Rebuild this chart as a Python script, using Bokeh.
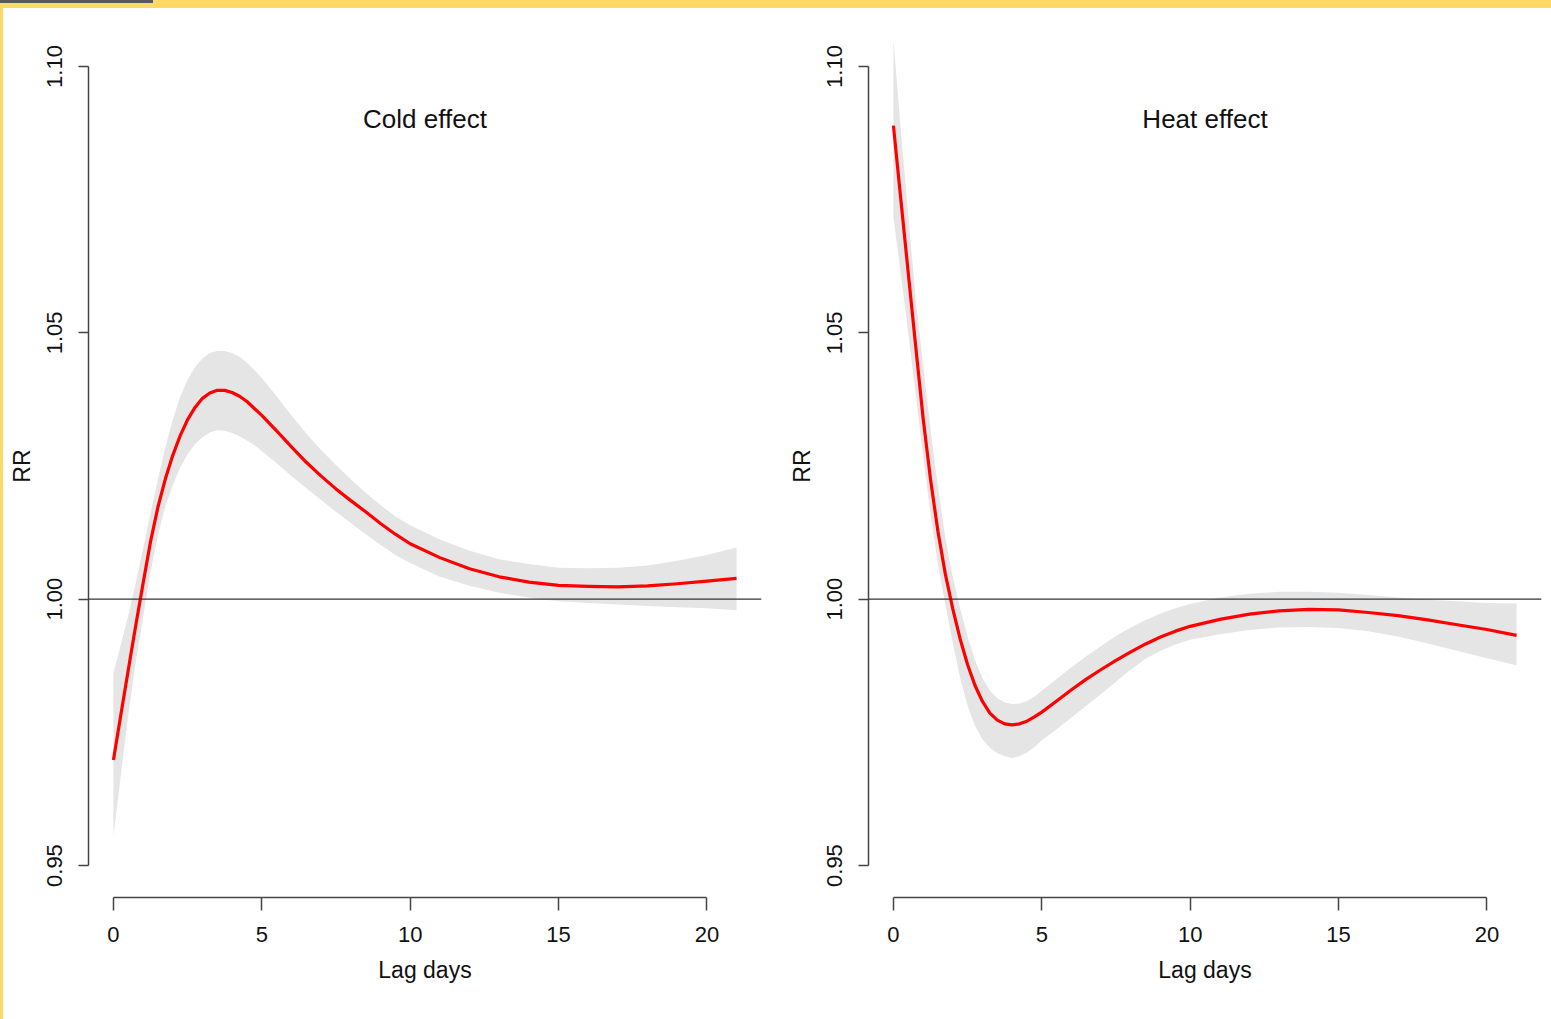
from bokeh.plotting import figure
from bokeh.models import (Range1d, FixedTicker, PrintfTickFormatter, Span, Label,
                          GlobalInlineStyleSheet)
from bokeh.layouts import row
from bokeh.embed import file_html
from bokeh.resources import INLINE

# ---------------- data ----------------
lags = [0, 0.25, 0.5, 0.75, 1, 1.25, 1.5, 1.75, 2, 2.25, 2.5, 2.75, 3, 3.25, 3.5, 3.75,
        4, 4.25, 4.5, 4.75, 5,
        5.5, 6, 6.5, 7, 7.5, 8, 8.5, 9, 9.5, 10,
        11, 12, 13, 14, 15, 16, 17, 18, 19, 20, 21]

cold_rr = [0.9698, 0.9783, 0.9867, 0.9950, 1.0030, 1.0108, 1.0173, 1.0226, 1.0270, 1.0307,
           1.0337, 1.0360, 1.0377, 1.0387, 1.0392, 1.0392, 1.0388, 1.0381, 1.0371, 1.0358,
           1.0345,
           1.0316, 1.0286, 1.0257, 1.0231, 1.0207, 1.0185, 1.0164, 1.0142, 1.0122, 1.0104,
           1.0078, 1.0057, 1.0042, 1.0032, 1.0026, 1.0024, 1.0023, 1.0025, 1.0029, 1.0034, 1.0039]
cold_lo = [0.9554, 0.9670, 0.9783, 0.9880, 0.9966, 1.0050, 1.0120, 1.0175, 1.0214, 1.0247,
           1.0272, 1.0291, 1.0304, 1.0313, 1.0317, 1.0316, 1.0312, 1.0306, 1.0298, 1.0289,
           1.0278,
           1.0255, 1.0231, 1.0208, 1.0186, 1.0164, 1.0143, 1.0122, 1.0102, 1.0083, 1.0068,
           1.0042, 1.0025, 1.0012, 1.0003, 0.9996, 0.9993, 0.9990, 0.9987, 0.9985, 0.9983, 0.9979]
cold_hi = [0.9861, 0.9915, 0.9970, 1.0030, 1.0095, 1.0161, 1.0225, 1.0285, 1.0337, 1.0380,
           1.0412, 1.0436, 1.0452, 1.0462, 1.0466, 1.0466, 1.0462, 1.0455, 1.0444, 1.0430,
           1.0415,
           1.0381, 1.0345, 1.0311, 1.0280, 1.0252, 1.0225, 1.0200, 1.0177, 1.0155, 1.0139,
           1.0112, 1.0091, 1.0075, 1.0066, 1.0059, 1.0058, 1.0059, 1.0063, 1.0072, 1.0083, 1.0097]

heat_rr = [1.0889, 1.0750, 1.0612, 1.0475, 1.0340, 1.0225, 1.0127, 1.0047, 0.9982, 0.9925,
           0.9877, 0.9838, 0.9808, 0.9786, 0.9773, 0.9766, 0.9764, 0.9766, 0.9771, 0.9779,
           0.9788,
           0.9809, 0.9830, 0.9850, 0.9868, 0.9885, 0.9901, 0.9916, 0.9929, 0.9940, 0.9949,
           0.9962, 0.9972, 0.9978, 0.9981, 0.9980, 0.9975, 0.9969, 0.9961, 0.9952, 0.9943, 0.9932]
heat_lo = [1.0717, 1.0610, 1.0500, 1.0385, 1.0268, 1.0160, 1.0065, 0.9990, 0.9918, 0.9852,
           0.9800, 0.9762, 0.9737, 0.9721, 0.9711, 0.9705, 0.9702, 0.9705, 0.9712, 0.9722,
           0.9735,
           0.9756, 0.9778, 0.9800, 0.9822, 0.9845, 0.9868, 0.9888, 0.9903, 0.9915, 0.9924,
           0.9934, 0.9942, 0.9947, 0.9948, 0.9946, 0.9940, 0.9930, 0.9917, 0.9903, 0.9889, 0.9876]
heat_hi = [1.1050, 1.0880, 1.0720, 1.0565, 1.0440, 1.0320, 1.0210, 1.0115, 1.0042, 0.9982,
           0.9930, 0.9885, 0.9852, 0.9828, 0.9814, 0.9806, 0.9803, 0.9804, 0.9809, 0.9817,
           0.9828,
           0.9850, 0.9872, 0.9893, 0.9912, 0.9931, 0.9947, 0.9961, 0.9973, 0.9983, 0.9991,
           1.0003, 1.0010, 1.0014, 1.0014, 1.0012, 1.0008, 1.0003, 0.9999, 0.9996, 0.9993, 0.9992]

x_ticks = [0, 5, 10, 15, 20]
y_ticks = [0.95, 1.00, 1.05, 1.10]
titles = ["Cold effect", "Heat effect"]
x_label = "Lag days"
y_label = "RR"

FONT = "Liberation Sans"
AXIS_COL = "#444444"


def make_panel(title, rr, lo, hi, border_left, border_right):
    p = figure(output_backend="svg", toolbar_location=None,
               frame_width=673, frame_height=863,
               min_border_left=border_left, min_border_right=border_right,
               min_border_top=26, min_border_bottom=105,
               x_range=Range1d(-0.84, 21.84), y_range=Range1d(0.944, 1.106))
    p.outline_line_color = None
    p.grid.visible = False
    p.background_fill_color = "white"
    p.border_fill_color = "white"

    p.varea(x=lags, y1=lo, y2=hi, fill_color="#E5E5E5")
    p.add_layout(Span(location=1.0, dimension="width", line_color="#333333", line_width=1.2))
    p.line(x=lags, y=rr, line_color="#FF0000", line_width=3.2, line_join="round")

    p.add_layout(Label(x=10.5, y=1.0902, text=title, text_align="center",
                       text_baseline="middle", text_font=FONT, text_font_size="26px",
                       text_color="#111111"))

    xa = p.xaxis[0]
    xa.ticker = FixedTicker(ticks=x_ticks)
    xa.formatter = PrintfTickFormatter(format="%d")
    xa.bounds = (0, 20)
    ya = p.yaxis[0]
    ya.ticker = FixedTicker(ticks=y_ticks)
    ya.formatter = PrintfTickFormatter(format="%.2f")
    ya.bounds = (0.95, 1.10)
    ya.major_label_orientation = "vertical"

    for ax in (xa, ya):
        ax.axis_line_color = AXIS_COL
        ax.axis_line_width = 1.5
        ax.major_tick_line_color = AXIS_COL
        ax.major_tick_line_width = 1.5
        ax.major_tick_in = 0
        ax.minor_tick_line_color = None
        ax.major_label_text_font = FONT
        ax.major_label_text_font_size = "22px"
        ax.major_label_text_color = "#111111"
        ax.axis_label_text_font = FONT
        ax.axis_label_text_font_size = "23px"
        ax.axis_label_text_font_style = "normal"
        ax.axis_label_text_color = "#111111"
    xa.major_tick_out = 13
    xa.major_label_standoff = 16
    xa.axis_label = x_label
    xa.axis_label_standoff = 12
    ya.major_tick_out = 10
    ya.major_label_standoff = 16
    ya.axis_label = y_label
    ya.axis_label_standoff = 10
    return p


p1 = make_panel(titles[0], cold_rr, cold_lo, cold_hi, 84, 23)
p2 = make_panel(titles[1], heat_rr, heat_lo, heat_hi, 84, 2)

layout = row(p1, p2)
layout.stylesheets = [GlobalInlineStyleSheet(css="""
html { background: linear-gradient(#5a5a5a, #5a5a5a) 0 0 / 153px 3px no-repeat, #FFD966; }
body { background: #ffffff; margin: 8px 0 0 3px; padding: 0 0 0 1px; min-height: calc(100vh - 8px); }
""")]

open("out.html", "w").write(file_html(layout, INLINE))
